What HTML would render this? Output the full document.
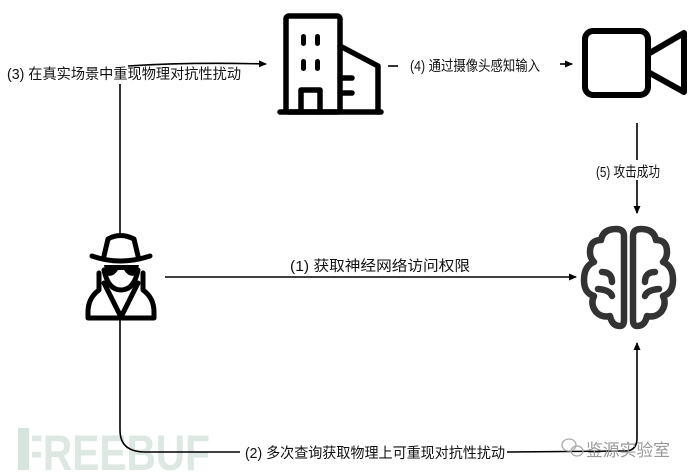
<!DOCTYPE html>
<html><head><meta charset="utf-8"><style>
html,body{margin:0;padding:0;background:#fff;}
body{width:690px;height:476px;overflow:hidden;position:relative;}
svg{position:absolute;left:0;top:0;}
text{font-family:"Liberation Sans","Noto Sans CJK SC",sans-serif;font-size:14.5px;fill:#111;}
</style></head><body>
<svg width="690" height="476" viewBox="0 0 690 476">
<defs><marker id="a" markerWidth="8" markerHeight="8" refX="7" refY="4" orient="auto" markerUnits="userSpaceOnUse"><path d="M0,0.5 L8,4 L0,7.5 Z" fill="#000"/></marker></defs>
<text x="18" y="470" textLength="192" lengthAdjust="spacingAndGlyphs" style="font-size:50px;font-weight:bold;fill:#dde8e2">FREEBUF</text>
<rect x="18" y="428" width="14" height="44" fill="#fff"/>
<rect x="18" y="428" width="11" height="42" fill="#d5e4dc"/>
<g fill="none" stroke="#000" stroke-width="5.5" stroke-linejoin="round" stroke-linecap="round">
<rect x="286" y="16" width="54" height="96" rx="3"/>
<path d="M340 46 L378 66 L378 112"/>
<path d="M280 112 L381 112"/>
<path d="M301 112 V90 H320 V112"/>
<path d="M340 78 H352 M340 93 H352"/>
</g>
<g fill="#000"><rect x="301" y="34" width="5" height="12" rx="2.5"/><rect x="315" y="34" width="5" height="12" rx="2.5"/><rect x="301" y="59" width="5" height="12" rx="2.5"/><rect x="315" y="59" width="5" height="12" rx="2.5"/></g>
<g fill="none" stroke="#000" stroke-width="6" stroke-linejoin="round">
<rect x="585" y="31" width="63" height="64" rx="8"/>
<path d="M648 54 L684 33 L684 92 L648 72"/>
</g>
<g fill="none" stroke="#000" stroke-width="5" stroke-linejoin="round" stroke-linecap="round">
<path d="M104 256 L108 239 Q120 232 134 239 L138 256"/>
<path d="M92 256 Q120 266 150 256"/>
<path d="M99 273 L99 290 Q88 298 88 312 L88 318 L154 318 L154 312 Q154 298 143 290 L143 273"/>
<path d="M104 270 Q108 290 121 290 Q134 290 138 270"/>
<path d="M104 283 L121 317 L138 283"/>
</g>
<path d="M104 265 H139 L136 275 Q129 278 124 270 H118 Q113 278 106 275 Z" fill="#000"/>
<g fill="none" stroke="#333" stroke-width="6.5" stroke-linejoin="round" stroke-linecap="round">
<path d="M624 236 Q624 229 616 229 Q603 229 601 240 Q590 240 590 252 Q590 258 594 262 Q584 266 584 280 Q584 293 594 296 Q590 304 596 312 Q602 318 610 316 Q612 326 620 326 Q624 326 624 320 Z"/>
<path d="M633 236 Q633 229 641 229 Q654 229 656 240 Q667 240 667 252 Q667 258 663 262 Q673 266 673 280 Q673 293 663 296 Q667 304 661 312 Q655 318 647 316 Q645 326 637 326 Q633 326 633 320 Z"/>
<path d="M598 289 Q610 290 612 296 M602 272 Q612 272 612 282"/>
<path d="M659 289 Q647 290 645 296 M655 272 Q645 272 645 282"/>
</g>
<g fill="none" stroke="#000" stroke-width="1.6">
<path d="M128 66 Q190 62 266 64" marker-end="url(#a)"/>
<path d="M120 84 L120 236"/>
<path d="M388 66 L398 66"/>
<path d="M560 64 L572 64" marker-end="url(#a)"/>
<path d="M637 123 L637 160 M637 180 L637 213" marker-end="url(#a)"/>
<path d="M165 277 L576 277" marker-end="url(#a)"/>
<path d="M120 320 L120 430 Q120 452 145 452 L240 452"/>
<path d="M507 452 L625 451 Q637 451 637 438 L637 343" marker-end="url(#a)"/>
</g>
<text x="7" y="79" textLength="234" lengthAdjust="spacingAndGlyphs">(3) 在真实场景中重现物理对抗性扰动</text>
<text x="410" y="71" textLength="130" lengthAdjust="spacingAndGlyphs">(4) 通过摄像头感知输入</text>
<text x="596" y="177" textLength="64" lengthAdjust="spacingAndGlyphs">(5) 攻击成功</text>
<text x="290" y="271" textLength="180" lengthAdjust="spacingAndGlyphs">(1) 获取神经网络访问权限</text>
<text x="245" y="458" textLength="260" lengthAdjust="spacingAndGlyphs">(2) 多次查询获取物理上可重现对抗性扰动</text>
<g fill="none" stroke="#aaa" stroke-width="1.3"><ellipse cx="569" cy="445" rx="7" ry="6"/><ellipse cx="577" cy="451" rx="6" ry="5"/></g>
<text x="586" y="456" textLength="84" lengthAdjust="spacingAndGlyphs" style="font-size:17px;fill:#999">鉴源实验室</text>
</svg>
</body></html>
